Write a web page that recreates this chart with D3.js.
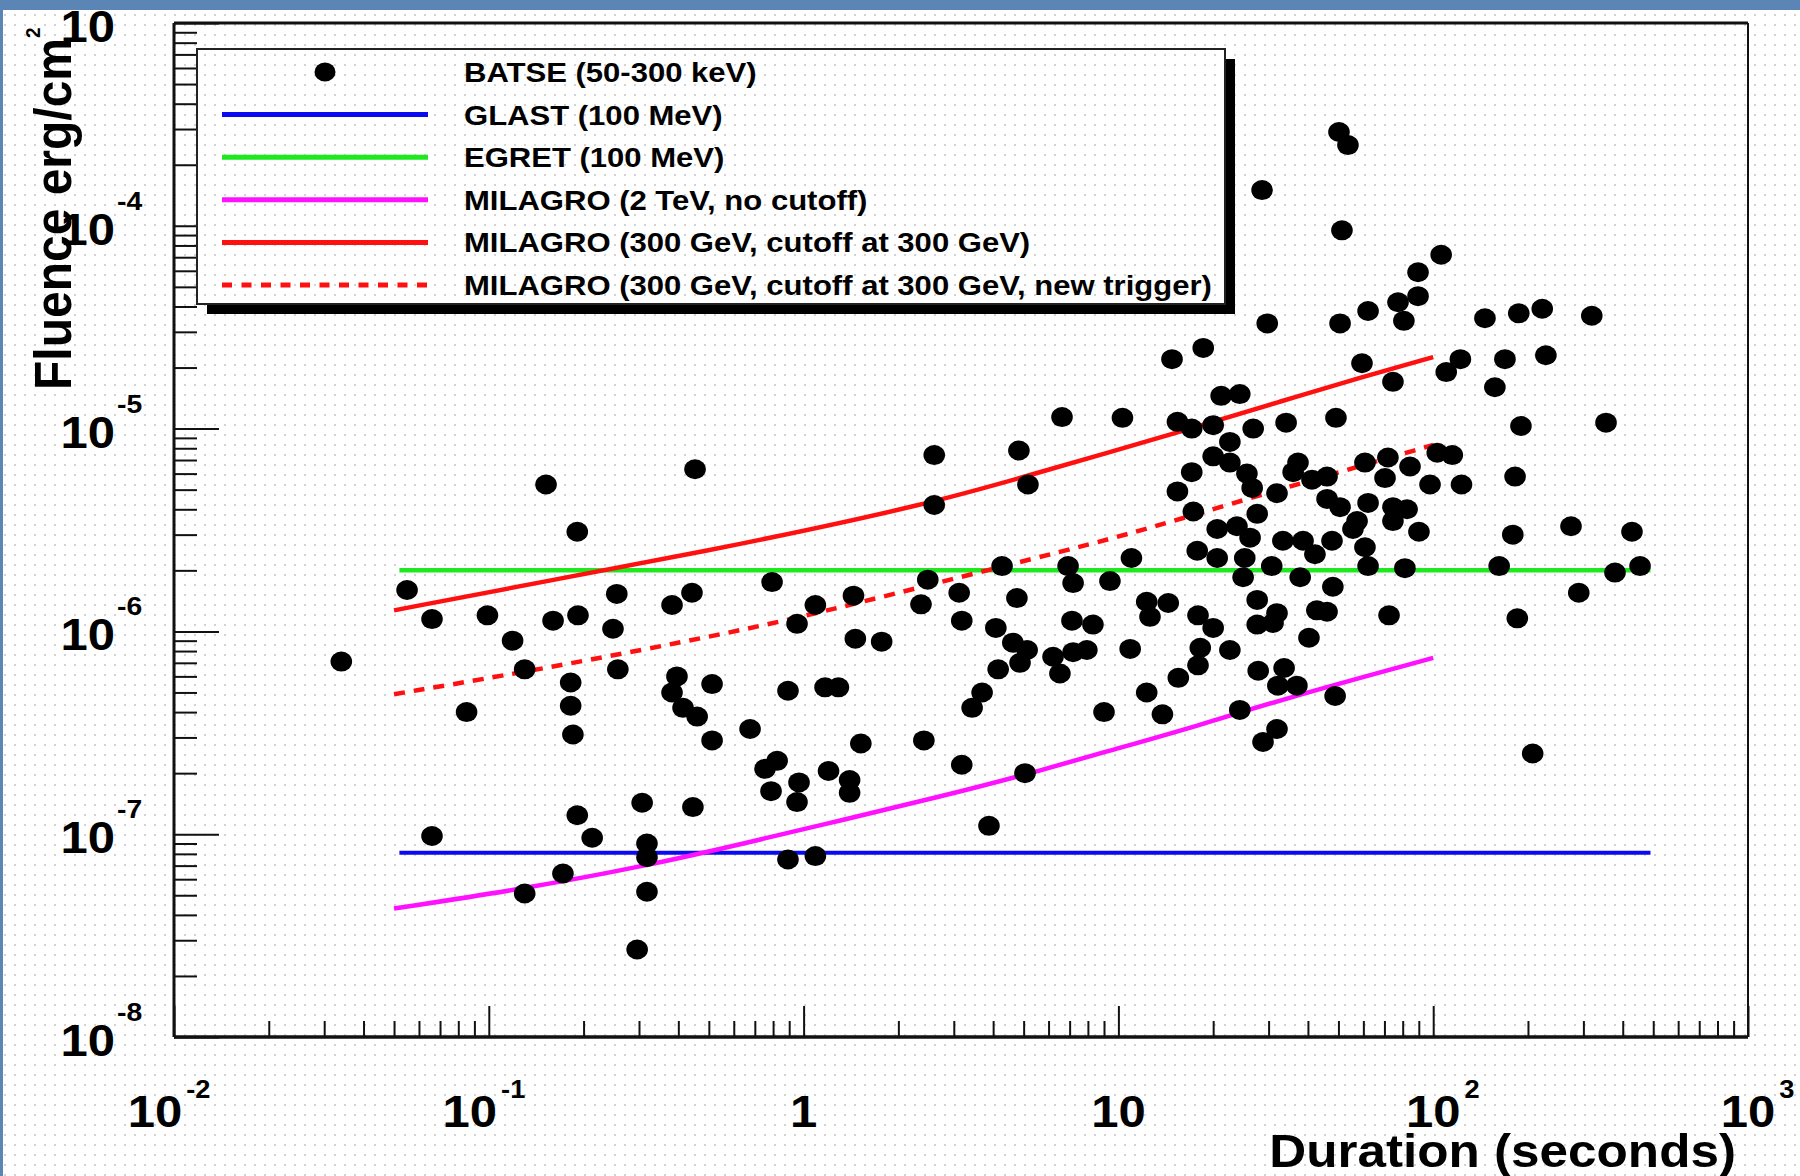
<!DOCTYPE html>
<html>
<head>
<meta charset="utf-8">
<script src="https://cdn.jsdelivr.net/npm/d3@7"></script>
<style>
  html, body { margin: 0; padding: 0; background: #fff; }
  svg { display: block; }
  text { font-family: "Liberation Sans", Arial, Helvetica, sans-serif; font-weight: bold; fill: #000; }
</style>
</head>
<body>
<svg id="chart" width="1800" height="1176"></svg>
<script>
// BATSE bursts: [duration (s), fluence (erg/cm^2)]
const batse = [
  [0.034,7.1e-7],[0.055,1.6e-6],[0.066,1.15e-6],[0.085,4.0e-7],[0.066,9.8e-8],
  [0.099,1.2e-6],[0.119,9.0e-7],[0.13,6.5e-7],[0.13,5.1e-8],[0.152,5.3e-6],
  [0.16,1.13e-6],[0.172,6.4e-8],[0.182,5.6e-7],[0.182,4.3e-7],[0.185,3.1e-7],
  [0.191,3.1e-6],[0.192,1.2e-6],[0.191,1.24e-7],[0.213,9.6e-8],[0.255,1.53e-6],
  [0.248,1.03e-6],[0.257,6.5e-7],[0.296,2.7e-8],[0.307,1.43e-7],[0.318,9.0e-8],
  [0.318,7.7e-8],[0.318,5.2e-8],[0.382,1.35e-6],[0.382,5.0e-7],[0.396,6.0e-7],
  [0.414,4.2e-7],[0.442,1.55e-6],[0.445,1.36e-7],[0.452,6.3e-6],[0.459,3.8e-7],
  [0.512,5.5e-7],[0.512,2.9e-7],[0.676,3.3e-7],[0.754,2.1e-7],[0.824,2.3e-7],
  [0.794,1.75e-6],[0.788,1.63e-7],[0.892,5.1e-7],[0.892,7.5e-8],[0.953,1.09e-6],
  [0.953,1.44e-7],[0.967,1.8e-7],[1.09,1.35e-6],[1.09,7.8e-8],[1.17,5.3e-7],
  [1.29,5.3e-7],[1.2,2.05e-7],[1.4,1.85e-7],[1.4,1.6e-7],[1.44,1.5e-6],
  [1.46,9.2e-7],[1.52,2.8e-7],[1.77,8.9e-7],[2.36,1.36e-6],[2.41,2.9e-7],
  [2.48,1.8e-6],[2.6,7.4e-6],[2.6,4.2e-6],[3.12,1.55e-6],[3.18,1.13e-6],
  [3.18,2.2e-7],[3.43,4.2e-7],[3.69,5.0e-7],[3.88,1.1e-7],[4.08,1.04e-6],
  [4.15,6.5e-7],[4.27,2.1e-6],[4.62,8.8e-7],[4.76,1.46e-6],[4.83,7.8e-6],
  [4.87,7.0e-7],[5.05,2.0e-7],[5.13,8.1e-7],[5.16,5.3e-6],[6.2,7.5e-7],
  [6.52,6.2e-7],[6.62,1.14e-5],[6.92,2.1e-6],[7.18,1.73e-6],[7.18,7.9e-7],
  [7.12,1.13e-6],[7.94,8.1e-7],[8.3,1.08e-6],[9.0,4.0e-7],[9.4,1.77e-6],
  [10.3,1.13e-5],[10.9,8.2e-7],[11.0,2.3e-6],[12.3,1.4e-6],[12.3,5.0e-7],
  [12.6,1.18e-6],[13.8,3.9e-7],[14.4,1.38e-6],[14.8,2.2e-5],[15.4,1.08e-5],
  [17.1,1.0e-5],[20,1.04e-5],[15.4,4.9e-6],[17.1,6.1e-6],[17.3,3.9e-6],
  [17.8,2.5e-6],[17.9,1.2e-6],[15.5,5.9e-7],[18.2,8.3e-7],[17.9,6.8e-7],
  [18.6,2.5e-5],[21.2,1.45e-5],[24.3,1.48e-5],[22.6,8.6e-6],[26.8,1.0e-5],
  [34.1,1.07e-5],[49.1,1.13e-5],[20,7.3e-6],[22.6,6.8e-6],[25.6,6.0e-6],
  [26.6,5.1e-6],[37.2,6.8e-6],[35.9,6.1e-6],[46,5.8e-6],[41.2,5.6e-6],
  [31.9,4.8e-6],[60.7,6.8e-6],[71.8,7.2e-6],[84.4,6.5e-6],[103,7.6e-6],
  [115,7.4e-6],[70.3,5.7e-6],[97.7,5.3e-6],[123,5.3e-6],[182,5.8e-6],
  [27.6,3.8e-6],[46,4.5e-6],[50.6,4.1e-6],[62.1,4.3e-6],[57.3,3.5e-6],
  [55.6,3.2e-6],[60.7,2.6e-6],[74.5,4.1e-6],[82.6,4.0e-6],[74.5,3.5e-6],
  [90.1,3.1e-6],[179,3.0e-6],[274,3.3e-6],[428,3.1e-6],[20.6,3.2e-6],
  [23.8,3.3e-6],[26.2,2.9e-6],[20.6,2.3e-6],[25.2,2.3e-6],[24.9,1.85e-6],
  [30.7,2.1e-6],[33.3,2.8e-6],[38.6,2.8e-6],[42.1,2.4e-6],[47.7,2.8e-6],
  [37.8,1.85e-6],[62.1,2.1e-6],[81.3,2.05e-6],[162,2.1e-6],[378,1.95e-6],
  [454,2.1e-6],[48,1.66e-6],[27.6,1.43e-6],[31.9,1.23e-6],[27.6,1.08e-6],
  [31,1.1e-6],[20,1.04e-6],[42.7,1.27e-6],[46,1.25e-6],[72.4,1.2e-6],
  [290,1.55e-6],[185,1.16e-6],[40.3,9.3e-7],[22.6,8.1e-7],[27.8,6.4e-7],
  [33.6,6.6e-7],[32.1,5.4e-7],[36.9,5.4e-7],[48.8,4.8e-7],[24.3,4.1e-7],
  [31.9,3.3e-7],[28.8,2.85e-7],[207,2.5e-7],[50.2,2.9e-4],[53.6,2.5e-4],
  [28.6,1.5e-4],[51.3,9.5e-5],[106,7.2e-5],[89.5,5.9e-5],[89.5,4.5e-5],
  [77.3,4.2e-5],[80.7,3.4e-5],[62.1,3.8e-5],[50.6,3.3e-5],[29.7,3.3e-5],
  [146,3.5e-5],[187,3.7e-5],[222,3.9e-5],[319,3.6e-5],[59.4,2.1e-5],
  [74.5,1.7e-5],[110,1.9e-5],[122,2.2e-5],[169,2.2e-5],[157,1.6e-5],
  [228,2.3e-5],[190,1.03e-5],[354,1.07e-5]
];

// Sensitivity curves: [duration (s), fluence (erg/cm^2)]
const glast = [[0.052, 8.1e-8], [490, 8.1e-8]];
const egret = [[0.052, 2.0e-6], [490, 2.0e-6]];
const milagro2TeV = [
  [0.05,4.3e-8],[0.131,5.4e-8],[0.318,7.0e-8],[0.628,8.9e-8],[1.31,1.17e-7],
  [2.71,1.53e-7],[5.05,1.96e-7],[9.2,2.56e-7],[18.2,3.45e-7],[32.6,4.6e-7],[100,7.4e-7]
];
const milagro300 = [
  [0.05,1.27e-6],[0.138,1.72e-6],[0.628,2.67e-6],[2.58,4.3e-6],[5.24,5.9e-6],
  [18.2,1.03e-5],[32.6,1.36e-5],[59.8,1.8e-5],[100,2.25e-5]
];
const milagro300New = [
  [0.05,4.9e-7],[0.138,6.4e-7],[0.628,1.0e-6],[1.44,1.36e-6],[4.21,2.08e-6],
  [9.9,2.9e-6],[17.8,3.8e-6],[41.5,5.6e-6],[100,8.3e-6]
];

// Axis decades (powers of ten) carrying labels
const xTickExps = [-2, -1, 0, 1, 2, 3];
const yTickExps = [-8, -7, -6, -5, -4, -3];

const legendItems = [
  { label: "BATSE (50-300 keV)", kind: "marker" },
  { label: "GLAST (100 MeV)", kind: "line", color: "#0a0af0" },
  { label: "EGRET (100 MeV)", kind: "line", color: "#1ee81e" },
  { label: "MILAGRO (2 TeV, no cutoff)", kind: "line", color: "#ff10ff" },
  { label: "MILAGRO (300 GeV, cutoff at 300 GeV)", kind: "line", color: "#ff1010" },
  { label: "MILAGRO (300 GeV, cutoff at 300 GeV, new trigger)", kind: "dash", color: "#ff1010" }
];

// ---- layout ----
const W = 1800, H = 1176;
const frame = { left: 174, right: 1748, top: 23, bottom: 1037 };
const SX = 1.09;            // horizontal stretch of the lettering

const svg = d3.select("#chart");
const defs = svg.append("defs");
const pat = defs.append("pattern").attr("id", "dots")
  .attr("width", 10).attr("height", 10).attr("patternUnits", "userSpaceOnUse");
pat.append("rect").attr("x", 4).attr("y", 4).attr("width", 2).attr("height", 2).attr("fill", "#d2d2d2");

svg.append("rect").attr("width", W).attr("height", H).attr("fill", "#fff");
svg.append("rect").attr("width", W).attr("height", H).attr("fill", "url(#dots)");

const x = d3.scaleLog().domain([1e-2, 1e3]).range([frame.left, frame.right]);
const y = d3.scaleLog().domain([1e-8, 1e-3]).range([frame.bottom, frame.top]);

const isPow10 = v => Math.abs(Math.log10(v) - Math.round(Math.log10(v))) < 1e-9;

// stretched text helper
function sText(parent, px, py, str, size, anchor, sx = SX) {
  const g = parent.append("g").attr("transform", `translate(${px},${py}) scale(${sx},1)`);
  return g.append("text").attr("font-size", size).attr("text-anchor", anchor).text(str);
}

// ---- axes (ticks point inward) ----
const axes = svg.append("g");
function styleAxis(g) {
  g.select(".domain").remove();
  g.selectAll("line").attr("stroke", "#111").attr("stroke-width", 2);
}
const xMinor = x.ticks().filter(v => !isPow10(v));
const xMajor = xTickExps.map(e => Math.pow(10, e));
const yMinor = y.ticks().filter(v => !isPow10(v));
const yMajor = yTickExps.map(e => Math.pow(10, e));

axes.append("g").attr("transform", `translate(0,${frame.bottom})`)
  .call(d3.axisBottom(x).tickValues(xMinor).tickSize(-16).tickFormat("")).call(styleAxis);
axes.append("g").attr("transform", `translate(0,${frame.bottom})`)
  .call(d3.axisBottom(x).tickValues(xMajor).tickSize(-31).tickFormat("")).call(styleAxis);
axes.append("g").attr("transform", `translate(${frame.left},0)`)
  .call(d3.axisLeft(y).tickValues(yMinor).tickSize(-23).tickFormat("")).call(styleAxis);
axes.append("g").attr("transform", `translate(${frame.left},0)`)
  .call(d3.axisLeft(y).tickValues(yMajor).tickSize(-45).tickFormat("")).call(styleAxis);

// frame
const fr = svg.append("g").attr("stroke", "#111").attr("fill", "none");
fr.append("line").attr("x1", frame.left).attr("x2", frame.right).attr("y1", frame.bottom).attr("y2", frame.bottom).attr("stroke-width", 3.5);
fr.append("line").attr("x1", frame.left).attr("x2", frame.left).attr("y1", frame.top).attr("y2", frame.bottom).attr("stroke-width", 3);
fr.append("line").attr("x1", frame.left).attr("x2", frame.right).attr("y1", frame.top).attr("y2", frame.top).attr("stroke-width", 3);
fr.append("line").attr("x1", frame.right).attr("x2", frame.right).attr("y1", frame.top).attr("y2", frame.bottom).attr("stroke-width", 2);

// ---- tick labels ----
const labels = svg.append("g");
xTickExps.forEach(e => {
  const tx = x(Math.pow(10, e));
  const baseY = frame.bottom + 90;
  if (e === 0 || e === 1) {
    sText(labels, tx, baseY, e === 0 ? "1" : "10", 45, "middle");
    return;
  }
  const cx = tx + (e < 0 ? -19 : 0);
  const base = sText(labels, cx, baseY, "10", 45, "middle");
  const half = base.node().getComputedTextLength() * SX / 2;
  sText(labels, cx + half + 4, baseY - 29, String(e), 25, "start");
});
yTickExps.forEach(e => {
  const ty = y(Math.pow(10, e));
  sText(labels, frame.left - 59, ty + 19, "10", 45, "end");
  // the top decade's exponent sits under the page's header band
  if (ty - 16 > 30) sText(labels, frame.left - 57, ty - 16, String(e), 26, "start");
});

// axis titles
const yt = svg.append("g").attr("transform", `translate(71,390) rotate(-90) scale(1,${SX})`)
  .append("text").attr("font-size", 48).attr("text-anchor", "start");
yt.append("tspan").text("Fluence erg/cm");
yt.append("tspan").attr("font-size", 19).attr("dy", -28).text("2");
sText(svg, 1736, 1167, "Duration (seconds)", 47, "end");

// ---- curves ----
const line = d3.line().x(d => x(d[0])).y(d => y(d[1])).curve(d3.curveBasis);
const flat = d3.line().x(d => x(d[0])).y(d => y(d[1]));
const curves = svg.append("g").attr("fill", "none").attr("stroke-linecap", "butt");
curves.append("path").datum(glast).attr("d", flat).attr("stroke", "#0a0af0").attr("stroke-width", 4);
curves.append("path").datum(egret).attr("d", flat).attr("stroke", "#1ee81e").attr("stroke-width", 4.5);
curves.append("path").datum(milagro2TeV).attr("d", line).attr("stroke", "#ff10ff").attr("stroke-width", 4.5);
curves.append("path").datum(milagro300).attr("d", line).attr("stroke", "#ff1010").attr("stroke-width", 4.5);
curves.append("path").datum(milagro300New).attr("d", line).attr("stroke", "#ff1010").attr("stroke-width", 4.5)
  .attr("stroke-dasharray", "11,9");

// ---- BATSE markers ----
svg.append("g").selectAll("ellipse").data(batse).join("ellipse")
  .attr("cx", d => x(d[0])).attr("cy", d => y(d[1]))
  .attr("rx", 10.8).attr("ry", 10).attr("fill", "#000");

// ---- legend ----
const lg = { x: 197, y: 49, w: 1028, h: 255, shadow: 10, rowY0: 72, rowStep: 42.6, symX0: 222, symX1: 428, textX: 464 };
const leg = svg.append("g");
leg.append("rect").attr("x", lg.x + lg.shadow).attr("y", lg.y + lg.shadow).attr("width", lg.w).attr("height", lg.h).attr("fill", "#000");
leg.append("rect").attr("x", lg.x).attr("y", lg.y).attr("width", lg.w).attr("height", lg.h).attr("fill", "#fff");
leg.append("rect").attr("x", lg.x).attr("y", lg.y).attr("width", lg.w).attr("height", lg.h).attr("fill", "url(#dots)")
  .attr("stroke", "#222").attr("stroke-width", 2);
legendItems.forEach((it, i) => {
  const ry = lg.rowY0 + i * lg.rowStep;
  if (it.kind === "marker") {
    leg.append("ellipse").attr("cx", (lg.symX0 + lg.symX1) / 2).attr("cy", ry).attr("rx", 10.5).attr("ry", 9.5).attr("fill", "#000");
  } else {
    leg.append("line").attr("x1", lg.symX0).attr("x2", lg.symX1).attr("y1", ry).attr("y2", ry)
      .attr("stroke", it.color).attr("stroke-width", 5)
      .attr("stroke-dasharray", it.kind === "dash" ? "10,9.5" : null);
  }
  sText(leg, lg.textX, ry + 10, it.label, 27, "start", 1.15);
});

// ---- page border ----
svg.append("rect").attr("x", 0).attr("y", 0).attr("width", W).attr("height", 10).attr("fill", "#5b85b5");
svg.append("rect").attr("x", 0).attr("y", 0).attr("width", 3).attr("height", H).attr("fill", "#5b85b5");
</script>
</body>
</html>
